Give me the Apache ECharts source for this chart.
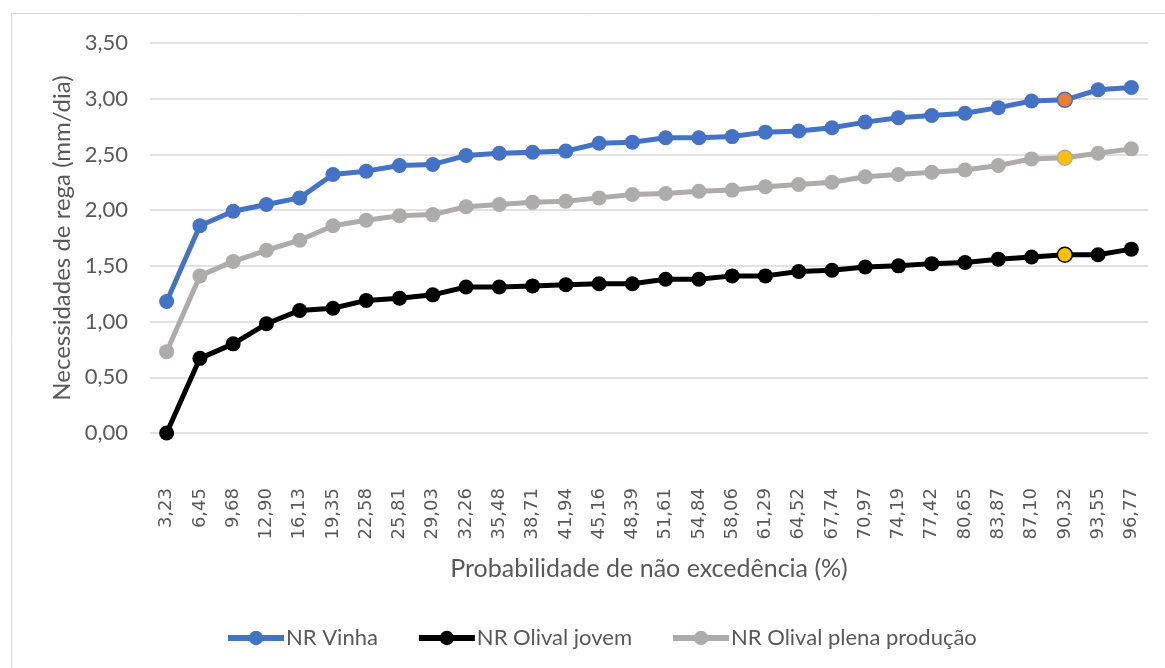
<!DOCTYPE html>
<html>
<head>
<meta charset="utf-8">
<script src="https://cdn.jsdelivr.net/npm/echarts@6/dist/echarts.min.js"></script>
<style>
  html, body { margin: 0; padding: 0; background: #fff; }
  #chart { width: 1165px; height: 668px; }
</style>
</head>
<body>
<div id="chart"></div>
<script>
// Probabilidade de não excedência (%)
const categories = ['3,23','6,45','9,68','12,90','16,13','19,35','22,58','25,81','29,03','32,26',
  '35,48','38,71','41,94','45,16','48,39','51,61','54,84','58,06','61,29','64,52',
  '67,74','70,97','74,19','77,42','80,65','83,87','87,10','90,32','93,55','96,77'];

// Necessidades de rega (mm/dia)
const nrVinha = [1.18,1.86,1.99,2.05,2.11,2.32,2.35,2.40,2.41,2.49,
  2.51,2.52,2.53,2.60,2.61,2.65,2.65,2.66,2.70,2.71,
  2.74,2.79,2.83,2.85,2.87,2.92,2.98,2.99,3.08,3.10];
const nrOlivalJovem = [0.00,0.67,0.80,0.98,1.10,1.12,1.19,1.21,1.24,1.31,
  1.31,1.32,1.33,1.34,1.34,1.38,1.38,1.41,1.41,1.45,
  1.46,1.49,1.50,1.52,1.53,1.56,1.58,1.60,1.60,1.65];
const nrOlivalPlena = [0.73,1.41,1.54,1.64,1.73,1.86,1.91,1.95,1.96,2.03,
  2.05,2.07,2.08,2.11,2.14,2.15,2.17,2.18,2.21,2.23,
  2.25,2.30,2.32,2.34,2.36,2.40,2.46,2.47,2.51,2.55];

const seriesNames = ['NR Vinha', 'NR Olival jovem', 'NR Olival plena produção'];
const yTickLabels = ['0,00','0,50','1,00','1,50','2,00','2,50','3,00','3,50'];

// point singled out at 90,32 %
const markedCategory = '90,32';

const FONT = 'Lato, "Open Sans", sans-serif';
const TEXT = '#595959';

function withMark(values, lineColor, fill) {
  const idx = categories.indexOf(markedCategory);
  return values.map((v, i) => i === idx
    ? { value: v, itemStyle: { color: fill, borderColor: lineColor, borderWidth: 1.5 } }
    : v);
}

function lineSeries(name, values, color, markFill) {
  return {
    name: name,
    type: 'line',
    data: withMark(values, color, markFill),
    symbol: 'circle',
    symbolSize: 15,
    showAllSymbol: true,
    lineStyle: { color: color, width: 5 },
    itemStyle: { color: color, borderColor: color, borderWidth: 0 },
    emphasis: { disabled: true },
    animation: false
  };
}

const chart = echarts.init(document.getElementById('chart'), null, { renderer: 'canvas' });

chart.setOption({
  backgroundColor: '#ffffff',
  animation: false,
  graphic: [{
    type: 'rect',
    shape: { x: 11.5, y: 13.5, width: 1200, height: 700 },
    style: { fill: 'none', stroke: '#D9D9D9', lineWidth: 1 },
    silent: true, z: -1
  }],
  grid: { left: 150, right: 17, top: 43, bottom: 235, containLabel: false },
  legend: {
    data: seriesNames,
    left: 220,
    top: 622,
    itemWidth: 56,
    itemHeight: 18,
    itemGap: 38,
    lineStyle: { width: 6 },
    textStyle: { fontFamily: FONT, fontSize: 22, color: TEXT, padding: [0, 0, 0, -3] }
  },
  xAxis: {
    type: 'category',
    data: categories,
    boundaryGap: true,
    name: 'Probabilidade de não excedência (%)',
    nameLocation: 'middle',
    nameGap: 123,
    nameTextStyle: { fontFamily: FONT, fontSize: 25, color: TEXT },
    axisLine: { show: false },
    axisTick: { show: false },
    axisLabel: {
      interval: 0,
      rotate: 90,
      margin: 55,
      fontFamily: '"DejaVu Sans", sans-serif',
      fontSize: 18,
      color: TEXT
    }
  },
  yAxis: {
    type: 'value',
    min: 0,
    max: 3.5,
    interval: 0.5,
    name: 'Necessidades de rega (mm/dia)',
    nameLocation: 'middle',
    nameGap: 74,
    nameTextStyle: { fontFamily: FONT, fontSize: 24, color: TEXT },
    axisLine: { show: false },
    axisTick: { show: false },
    splitLine: { lineStyle: { color: '#D9D9D9', width: 1.5 } },
    axisLabel: {
      margin: 22,
      fontFamily: FONT,
      fontSize: 22,
      color: TEXT,
      formatter: function (v) { return yTickLabels[Math.round(v / 0.5)]; }
    }
  },
  series: [
    lineSeries(seriesNames[0], nrVinha, '#4472C4', '#ED7D31'),
    lineSeries(seriesNames[1], nrOlivalJovem, '#000000', '#FFC000'),
    lineSeries(seriesNames[2], nrOlivalPlena, '#AEABAB', '#FFC000')
  ]
});
</script>
</body>
</html>
